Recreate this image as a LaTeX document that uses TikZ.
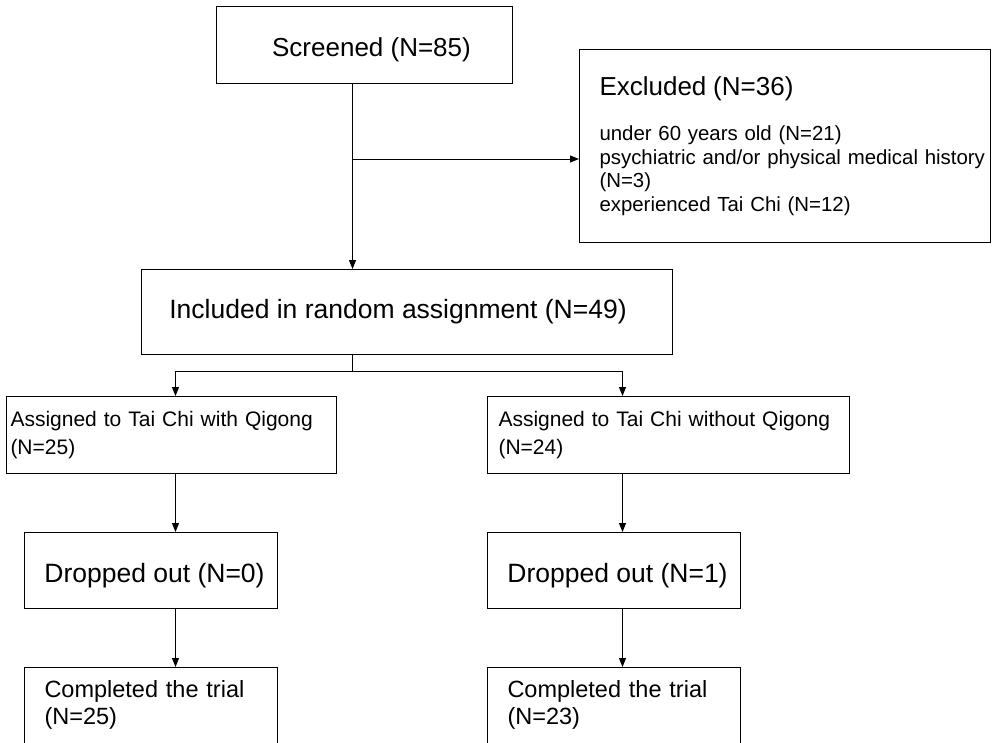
\documentclass[tikz,border=0pt]{standalone}
\usepackage{fontspec}
\setmainfont{Liberation Sans}
\usetikzlibrary{arrows.meta}
\begin{document}
\begin{tikzpicture}[x=1pt,y=-1pt,
  box/.style={draw, line width=1pt, rectangle, inner sep=0pt, anchor=north west},
  arr/.style={line width=1pt, -{Triangle[length=9pt,width=7pt]}},
  conn/.style={line width=1pt}]
\clip (0,0) rectangle (992,742);
\fill[white] (0,0) rectangle (992,742);

\node[box, minimum width=296, minimum height=77, text height=28pt, font=\fontsize{26}{31}\selectfont] (scr) at (216,6) {\hspace*{14pt}Screened (N=85)};

\node[box, minimum width=411, minimum height=193, text width=371, inner xsep=19, align=left, font=\fontsize{20.4}{23.5}\selectfont] (excl) at (579,49)
  {{\fontsize{26}{30}\selectfont Excluded (N=36)}\\[22pt]
   under 60 years old (N=21)\\
   \mbox{psychiatric and/or physical medical history}\\
   (N=3)\\
   experienced Tai Chi (N=12)};

\node[box, minimum width=531, minimum height=85, font=\fontsize{26.5}{31}\selectfont] (inc) at (141,269) {Included in random assignment (N=49)\hspace*{18pt}};

\node[box, minimum width=330, minimum height=77, text width=322, inner xsep=4, align=left, font=\fontsize{21}{28}\selectfont] (asgL) at (6,396) {Assigned to Tai Chi with Qigong\\(N=25)};
\node[box, minimum width=362, minimum height=77, text width=340, inner xsep=11, align=left, font=\fontsize{21}{28}\selectfont] (asgR) at (487,396) {Assigned to Tai Chi without Qigong\\(N=24)};

\node[box, minimum width=253, minimum height=76, text height=29.3pt, font=\fontsize{26.5}{31}\selectfont] (dropL) at (24,532) {\hspace*{7pt}Dropped out (N=0)};
\node[box, minimum width=253, minimum height=76, text height=29.3pt, font=\fontsize{26.5}{31}\selectfont] (dropR) at (487,532) {\hspace*{7pt}Dropped out (N=1)};

\node[box, minimum width=253, minimum height=90, text width=213, inner xsep=20, align=left, text depth=48pt, font=\fontsize{23.5}{27}\selectfont] (compL) at (24,667) {Completed the trial\\(N=25)};
\node[box, minimum width=253, minimum height=90, text width=213, inner xsep=20, align=left, text depth=48pt, font=\fontsize{23.5}{27}\selectfont] (compR) at (487,667) {Completed the trial\\(N=23)};

\coordinate (t) at (352.5,0);
\coordinate (eb) at (352.5,159);
\coordinate (sp) at (352.5,371);
\coordinate (cL) at (175.5,371);
\coordinate (cR) at (622.5,371);

\draw[arr] (scr.south -| t) -- (inc.north -| t);
\draw[arr] (eb) -- (eb -| excl.west);
\draw[conn] (inc.south -| t) -- (sp);
\draw[arr] (sp) -- (cL) -- (asgL.north -| cL);
\draw[arr] (sp) -- (cR) -- (asgR.north -| cR);
\draw[arr] (asgL.south -| cL) -- (dropL.north -| cL);
\draw[arr] (dropL.south -| cL) -- (compL.north -| cL);
\draw[arr] (asgR.south -| cR) -- (dropR.north -| cR);
\draw[arr] (dropR.south -| cR) -- (compR.north -| cR);
\end{tikzpicture}
\end{document}
